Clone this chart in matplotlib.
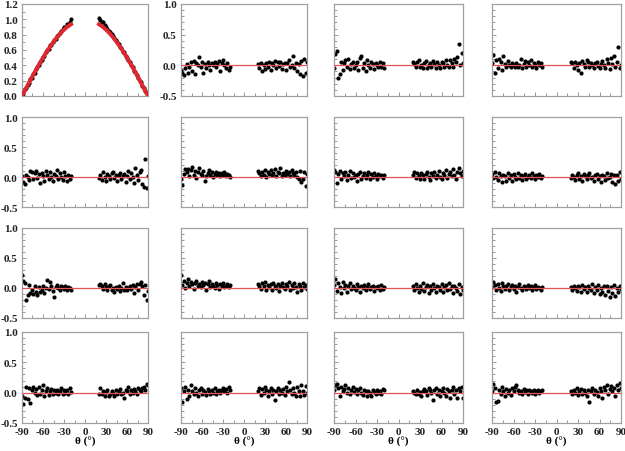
import matplotlib

matplotlib.use("Agg")

import matplotlib.pyplot as plt
from matplotlib.ticker import MultipleLocator

plt.rcParams["font.family"] = ["Liberation Serif", "DejaVu Serif"]
plt.rcParams["font.weight"] = "bold"

# angle grid of the measurements (deg)
theta_left = list(range(-90, -19, 2))
theta_right = list(range(20, 91, 2))

# panel 1: measured signal and fitted curve
p1_left = [.01, .03, .09, .10, .15, .17, .22, .24, .29, .30, .35, .38, .40, .45, .47, .51, .52, .57,
           .60, .61, .66, .67, .70, .73, .75, .78, .80, .82, .85, .87, .90, .90, .94, .93, .97, 1.00]
p1_right = [1.02, .99, .96, .97, .92, .90, .88, .85, .84, .81, .78, .76, .73, .70, .68, .64, .62, .58,
            .57, .52, .50, .47, .44, .40, .38, .33, .31, .27, .24, .20, .18, .13, .11, .06, .04, .01]
fit_theta_left = [-90, -85, -80, -75, -70, -65, -60, -55, -50, -45, -40, -35, -30, -25, -20]
fit_theta_right = [20, 25, 30, 35, 40, 45, 50, 55, 60, 65, 70, 75, 80, 85, 90]
fit_left = [0.0, .087, .174, .259, .342, .423, .500, .574, .643, .707, .766, .819, .866, .906, .935]
fit_right = [.935, .906, .866, .819, .766, .707, .643, .574, .500, .423, .342, .259, .174, .087, 0.0]

# residual panels (left half, right half)
p2_left = [-.08, -.12, -.15, -.05, .02, -.13, -.03, .05, -.10, .07, -.14, .03, .00, .13, -.02, .05, -.12, .02,
           -.04, .06, .01, -.08, .04, .00, .06, -.03, .02, .07, -.10, .03, .09, .01, -.05, .04, -.07, -.02]
p2_right = [.02, -.05, .03, -.09, .01, -.06, .04, -.02, .06, -.07, .03, .00, .07, -.04, .05, -.01, .06, -.06,
            .02, .04, -.08, .03, .08, -.03, .01, .15, -.05, .04, -.10, .02, -.14, .07, -.17, .10, -.12, .05]
p3_left = [-.05, .18, .23, -.20, -.14, .05, -.08, .03, .08, -.03, .10, -.06, .02, .06, -.04, .00, .05, -.08,
           .12, .15, -.05, .03, -.10, .08, .00, -.04, .05, .02, -.06, .04, .00, -.03, .05, -.02, .03, -.04]
p3_right = [.06, .02, -.03, .05, .08, -.02, .00, -.05, .04, .07, -.04, .01, .03, -.03, .07, .02, -.04, .05,
            .00, -.05, .06, .03, -.03, .08, .01, -.02, .09, .04, -.03, .10, .06, .13, .34, .00, .20, .03]
p4_left = [.03, .17, -.12, .08, -.05, .10, .05, -.07, .15, .02, -.02, .07, .01, -.03, .03, .00, -.02, .04,
           -.03, .01, .10, -.05, .02, .07, -.03, .05, .00, .08, -.02, .04, .01, -.04, .06, .00, .03, -.02]
p4_right = [.05, .03, -.05, .06, .00, -.08, .04, -.12, .07, .02, -.03, .08, .05, -.02, .04, .00, -.04, .03,
            .06, -.01, -.05, .02, .07, .00, -.04, .10, .03, -.06, .12, .02, .16, -.03, .05, .30, -.05, .01]
p5_left = [.01, -.08, -.12, .03, .00, -.05, .10, .08, -.03, .06, .10, -.02, .05, -.10, .07, .02, -.06, .10,
           .03, -.04, .08, .00, -.07, .05, .01, .12, -.03, .06, .00, -.05, .08, .02, -.06, .04, -.03, .02]
p5_right = [-.02, .03, -.05, .08, .00, -.07, .05, .02, -.03, .06, .08, -.02, .04, -.06, .03, .07, -.04, .01,
            .05, -.08, .02, .10, -.03, .06, .00, -.10, .15, .04, -.05, .08, .12, -.12, -.16, .30, -.18, .02]
p6_left = [-.03, -.14, .05, .13, .08, .14, .02, .12, .16, .04, .10, -.01, .08, .15, .05, .03, .10, -.07,
           .02, .06, .11, .04, .08, .00, .05, .09, .03, .07, .01, .06, .04, .08, .02, .05, .03, .00]
p6_right = [.10, .07, .02, .09, .04, .12, .00, .08, .05, .11, .03, .07, .13, .02, .09, .06, .15, .01,
            .07, .04, .10, .05, .08, .02, .12, .06, .03, .09, .00, -.04, .10, -.08, -.03, .08, -.15, .05]
p7_left = [.12, .08, -.10, .05, .10, -.03, .06, .02, .08, -.05, .04, .10, -.02, .07, .00, .03, -.06, .05,
           .09, -.04, .02, .06, -.01, .04, .08, -.03, .05, .00, .07, .02, -.04, .05, .01, .03, -.02, .04]
p7_right = [.04, .08, -.02, .06, .01, -.04, .07, .03, -.03, .05, .09, .00, -.05, .06, .02, .08, -.02, .04,
            .10, .00, -.04, .07, .03, .11, -.02, .05, .08, .01, .13, .04, -.03, .09, .15, .06, .02, .10]
p8_left = [.05, -.02, .08, .00, -.05, .06, .02, -.08, .04, .01, -.06, .07, -.02, .03, -.07, .05, .00, -.04,
           .06, -.01, .03, -.05, .02, .05, -.03, .00, .04, -.02, .06, .01, -.04, .03, .00, .05, -.01, .02]
p8_right = [-.02, .04, .00, -.05, .03, .06, -.03, .02, -.07, .05, .01, -.04, .04, .07, -.02, .00, -.06, .03,
            .05, -.03, .01, -.08, .04, .02, -.05, .06, -.02, .00, .05, -.09, .03, -.12, .04, -.06, .08, -.03]
p9_left = [.22, .12, .08, -.20, -.12, .05, -.08, -.03, -.10, .04, -.06, -.12, .02, -.07, -.04, .03, -.09, .00,
           .13, -.02, .10, .03, -.05, -.15, .02, .05, .00, -.03, .04, .02, -.02, .03, -.04, .01, .00, -.03]
p9_right = [.05, .07, .03, -.02, .06, .01, -.04, .03, .05, -.03, .00, -.06, .02, -.02, .04, -.05, .00, .09,
            -.03, .02, -.04, .00, .03, -.02, .05, -.08, .01, .06, -.03, .07, .10, .03, -.12, .05, -.20, -.05]
p10_left = [.22, .05, .12, .00, .08, .15, .03, .10, .06, -.02, .09, .12, .04, .07, .01, .10, .05, .08,
            -.03, .06, .11, .02, .07, .04, .00, .08, .05, -.02, .06, .03, .09, .01, .04, .07, .02, .05]
p10_right = [.06, .03, -.02, .08, .04, .10, -.04, .05, .02, .07, -.03, .09, .03, .00, .06, -.05, .04, .08,
             .01, -.02, .07, .03, .10, -.04, .05, .00, .08, .02, -.06, .06, .03, -.03, .09, .01, .05, -.02]
p11_left = [.05, .15, -.05, .08, .02, -.08, .10, .00, .05, -.06, .03, .08, -.02, .04, .00, -.04, .06, .02,
            -.07, .03, .00, .05, -.03, .02, .06, -.02, .01, .04, -.05, .02, .00, .03, -.03, .05, -.01, .02]
p11_right = [.03, -.04, .06, .00, -.06, .04, -.02, .08, -.05, .02, .05, -.08, .03, -.03, .07, .00, -.06, .04,
             .02, -.03, .06, -.07, .01, .05, -.04, .08, -.02, .03, -.09, .04, .00, -.05, .06, -.10, .02, -.04]
p12_left = [.02, .10, .05, -.03, .06, .00, -.05, .08, .03, -.02, .04, .07, -.04, .01, .05, -.01, .03, -.06,
            .02, .06, .00, -.03, .04, .01, -.02, .05, .00, .03, -.04, .02, .05, -.01, .02, .00, -.03, .01]
p12_right = [.02, -.03, .04, .00, -.05, .03, .01, -.06, .05, -.02, .02, -.07, .04, .00, -.04, .06, -.08, .02,
             -.03, .05, -.10, .00, -.06, .03, -.12, .04, -.05, -.15, .02, -.08, .05, -.13, .00, -.06, .03, -.02]
p13_left = [-.05, -.18, -.08, .10, -.10, .08, -.17, .05, .10, .00, .06, -.04, .09, -.03, .05, .12, -.05, .03,
            .07, -.04, .02, .06, -.02, .04, .00, .05, -.03, .03, .07, -.02, .04, .00, .05, -.02, .08, .01]
p13_right = [-.03, .07, -.02, .03, -.05, .01, .04, -.06, -.02, .03, .00, -.05, .04, -.03, .02, .06, -.02, .00,
             -.08, .05, .02, .09, -.03, .04, .00, .06, .02, -.02, .07, .04, .03, .08, .10, .05, .14, .12]
p14_left = [.08, -.15, .02, .10, -.10, .05, -.05, .12, .03, -.03, .07, .00, -.06, .04, .08, -.02, .05, .01,
            -.04, .06, .02, -.03, .04, .00, .07, -.02, .03, .05, -.01, .04, .08, .02, .06, .00, .09, .04]
p14_right = [.02, .08, -.04, .06, .00, .10, .04, -.05, .02, .07, -.03, .05, -.12, .03, .08, -.02, .04, .00,
             .06, -.04, .09, .02, .17, .05, -.03, .07, .00, -.06, .10, .03, -.05, .12, .02, -.04, .11, .00]
p15_left = [.05, .12, .15, .08, -.05, .10, .02, .06, .12, .00, .08, -.03, .05, .09, .01, .06, -.02, .04,
            .07, .00, -.04, .05, .02, -.06, .03, .00, -.05, .04, .01, -.03, .05, .00, .03, -.02, .06, .04]
p15_right = [.02, .00, -.03, .04, -.02, .01, -.05, .03, .06, .02, -.04, .08, .05, .00, -.12, .04, .07, -.02,
             .05, -.06, .03, .08, .00, -.05, .06, .02, -.08, .05, .09, -.03, .04, -.09, .07, .02, .10, -.08]
p16_left = [.03, .15, .08, -.15, -.14, .05, -.03, .10, .02, -.05, .06, .00, .04, -.04, .07, .02, .09, .12,
            .05, .00, .03, -.02, .06, .01, .04, -.03, .05, .02, .00, .04, -.02, .03, .05, .00, .02, .04]
p16_right = [.03, -.02, .05, .00, .07, -.04, .02, .06, -.03, .04, .00, -.06, .05, -.15, .03, .08, -.02, .05,
             .01, -.05, .07, .03, -.08, .10, .04, .12, -.03, .06, .11, .02, .08, -.06, .13, .04, .16, .07]

zero_theta = [-90, 90]
zero_fit = [0.0, 0.0]

residuals = [
    None, (p2_left, p2_right), (p3_left, p3_right), (p4_left, p4_right),
    (p5_left, p5_right), (p6_left, p6_right), (p7_left, p7_right), (p8_left, p8_right),
    (p9_left, p9_right), (p10_left, p10_right), (p11_left, p11_right), (p12_left, p12_right),
    (p13_left, p13_right), (p14_left, p14_right), (p15_left, p15_right), (p16_left, p16_right),
]

W, H = 625, 452
col_left = [22, 181, 334, 492]
col_width = [126, 126, 129, 129]
row_top = [5, 118, 229, 333]
row_height = [92, 90, 90, 91]

tick_font = {"weight": "bold", "size": 8}

fig = plt.figure(figsize=(W / 100, H / 100), dpi=100)

for idx in range(16):
    r, c = divmod(idx, 4)
    x0, w = col_left[c], col_width[c]
    y0, h = row_top[r], row_height[r]
    ax = fig.add_axes([x0 / W, 1 - (y0 + h) / H, w / W, h / H])

    if idx == 0:
        ax.scatter(theta_left, p1_left, s=9, color="black", lw=0, zorder=2)
        ax.scatter(theta_right, p1_right, s=9, color="black", lw=0, zorder=2)
        ax.plot(fit_theta_left, fit_left, color="#e0262e", lw=2.8, zorder=3)
        ax.plot(fit_theta_right, fit_right, color="#e0262e", lw=2.8, zorder=3)
        ax.set_ylim(0, 1.2)
        ax.yaxis.set_major_locator(MultipleLocator(0.2))
        ax.yaxis.set_minor_locator(MultipleLocator(0.1))
    else:
        left_vals, right_vals = residuals[idx]
        ax.scatter(theta_left, left_vals, s=9, color="black", lw=0, zorder=2)
        ax.scatter(theta_right, right_vals, s=9, color="black", lw=0, zorder=2)
        ax.plot(zero_theta, zero_fit, color="#e05555", lw=0.9, zorder=3)
        ax.set_ylim(-0.5, 1.0)
        ax.yaxis.set_major_locator(MultipleLocator(0.5))
        ax.yaxis.set_minor_locator(MultipleLocator(0.1))

    ax.set_xlim(-90, 90)
    ax.xaxis.set_major_locator(MultipleLocator(30))
    ax.xaxis.set_minor_locator(MultipleLocator(15))

    for sp in ax.spines.values():
        sp.set_color("#a0a0a0")
        sp.set_linewidth(0.9)
    ax.tick_params(which="both", direction="in", color="#888888", width=0.6)
    ax.tick_params(which="major", length=3)
    ax.tick_params(which="minor", length=2)
    ax.tick_params(axis="both", pad=3, labelcolor="#222222")

    show_y = c == 0 or idx == 1
    if show_y:
        ax.set_yticklabels([f"{v:.1f}" for v in ax.get_yticks()], fontdict=tick_font)
    else:
        ax.set_yticklabels([])

    if r == 3:
        ax.set_xticklabels([f"{int(v)}" for v in ax.get_xticks()], fontdict=tick_font)
        ax.set_xlabel("θ (°)", fontsize=8, fontweight="bold", labelpad=0)
    else:
        ax.set_xticklabels([])

fig.savefig("out.png", dpi=100)
